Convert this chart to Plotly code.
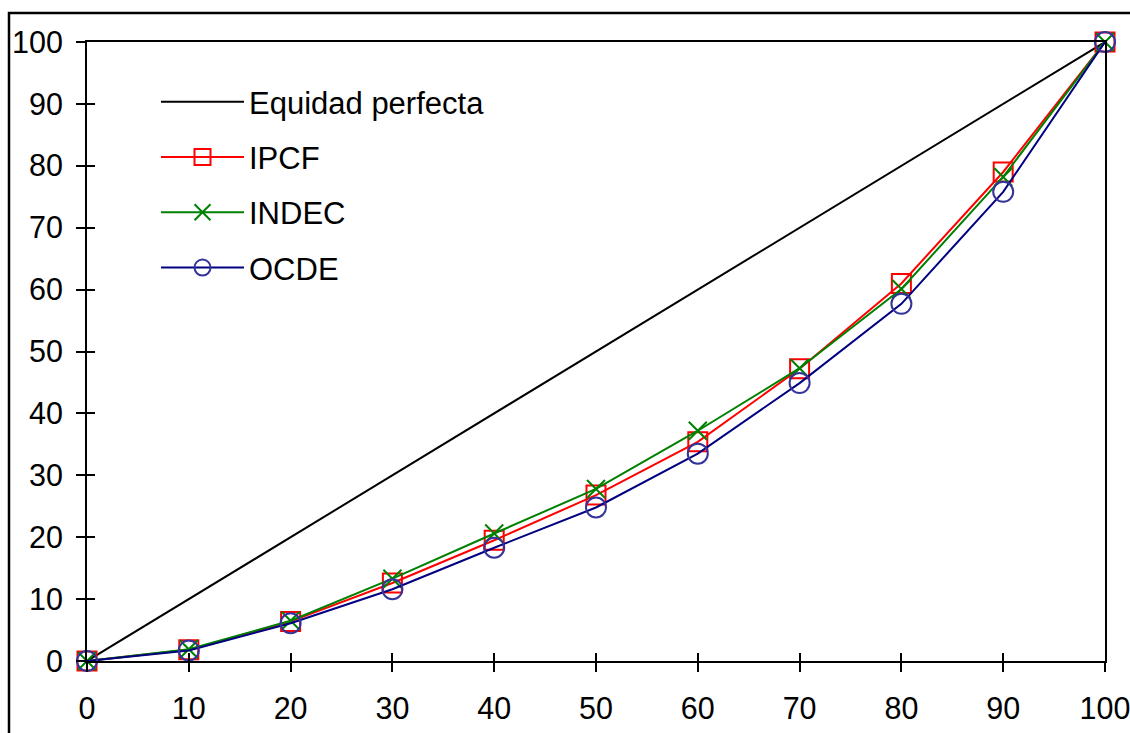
import plotly.graph_objects as go

# Data (Lorenz curves)
x_pct = [0, 10, 20, 30, 40, 50, 60, 70, 80, 90, 100]
equidad = [0, 10, 20, 30, 40, 50, 60, 70, 80, 90, 100]
ipcf = [0, 1.8, 6.4, 12.6, 19.5, 26.8, 35.4, 47.2, 61.0, 79.0, 100]
indec = [0, 1.9, 6.5, 13.3, 20.6, 27.8, 37.2, 47.3, 60.1, 78.2, 100]
ocde = [0, 1.7, 6.1, 11.6, 18.3, 24.8, 33.5, 44.9, 57.7, 75.8, 100]
tick_vals = [0, 10, 20, 30, 40, 50, 60, 70, 80, 90, 100]

FONT = "Liberation Sans, Arial, sans-serif"
W, H = 1130, 733
L, R, T, B = 87, 25, 42, 72
pw, ph = W - L - R, H - T - B

fig = go.Figure()
fig.add_trace(go.Scatter(x=x_pct, y=equidad, name="Equidad perfecta", mode="lines",
                         line=dict(color="black", width=2), legendgroup="a", cliponaxis=False))
fig.add_trace(go.Scatter(x=x_pct, y=ipcf, name="IPCF", mode="lines+markers",
                         line=dict(color="#FF0000", width=2), legendgroup="b", cliponaxis=False,
                         marker=dict(symbol="square-open", size=19, color="#FF0000",
                                     line=dict(width=2, color="#FF0000"))))
fig.add_trace(go.Scatter(x=x_pct, y=indec, name="INDEC", mode="lines+markers",
                         line=dict(color="#008000", width=2), legendgroup="c", cliponaxis=False,
                         marker=dict(symbol="x-thin-open", size=18, color="#008000",
                                     line=dict(width=2, color="#008000"))))
fig.add_trace(go.Scatter(x=x_pct, y=ocde, name="OCDE", mode="lines+markers",
                         line=dict(color="#000080", width=2), legendgroup="d", cliponaxis=False,
                         marker=dict(symbol="circle-open", size=20, color="#333399",
                                     line=dict(width=2, color="#333399"))))
# invisible carrier trace so the inner-tick overlay axes get drawn
fig.add_trace(go.Scatter(x=x_pct, y=equidad, xaxis="x2", yaxis="y2", mode="lines",
                         line=dict(width=0, color="rgba(0,0,0,0)"), opacity=0,
                         showlegend=False, hoverinfo="skip"))

tick_font = dict(family=FONT, size=30.5, color="black")
axis_common = dict(range=[0, 100], tickvals=tick_vals, showgrid=False, zeroline=False,
                   showline=True, linecolor="black", linewidth=2, mirror=True,
                   ticks="outside", ticklen=9, tickwidth=2, tickcolor="black",
                   automargin=False, ticklabeloverflow="allow", tickfont=tick_font)
inner_common = dict(range=[0, 100], tickvals=tick_vals, showgrid=False, zeroline=False,
                    showline=False, showticklabels=False, automargin=False,
                    ticks="inside", ticklen=8, tickwidth=2, tickcolor="black")

fig.update_layout(
    width=W, height=H,
    margin=dict(l=L, r=R, t=T, b=B),
    paper_bgcolor="white", plot_bgcolor="white",
    font=dict(family=FONT, size=30, color="black"),
    xaxis=dict(**axis_common, ticklabelstandoff=10),
    yaxis=dict(**axis_common, ticklabelstandoff=7),
    xaxis2=dict(**inner_common, overlaying="x", anchor="y", side="bottom"),
    yaxis2=dict(**inner_common, overlaying="y", anchor="x", side="left"),
    showlegend=True,
    legend=dict(x=(156 - L) / pw, y=1 - (75 - T) / ph, xanchor="left", yanchor="top",
                bgcolor="rgba(0,0,0,0)", borderwidth=0, itemwidth=83,
                tracegroupgap=12,
                font=dict(family=FONT, size=31, color="black")),
    shapes=[dict(type="rect", xref="paper", yref="paper",
                 x0=(9 - L) / pw, x1=(1145 - L) / pw,
                 y0=-(745 - (H - B)) / ph, y1=1 + (T - 13) / ph,
                 line=dict(color="black", width=2.5), fillcolor="rgba(0,0,0,0)")],
)

fig.write_html("out.html")
